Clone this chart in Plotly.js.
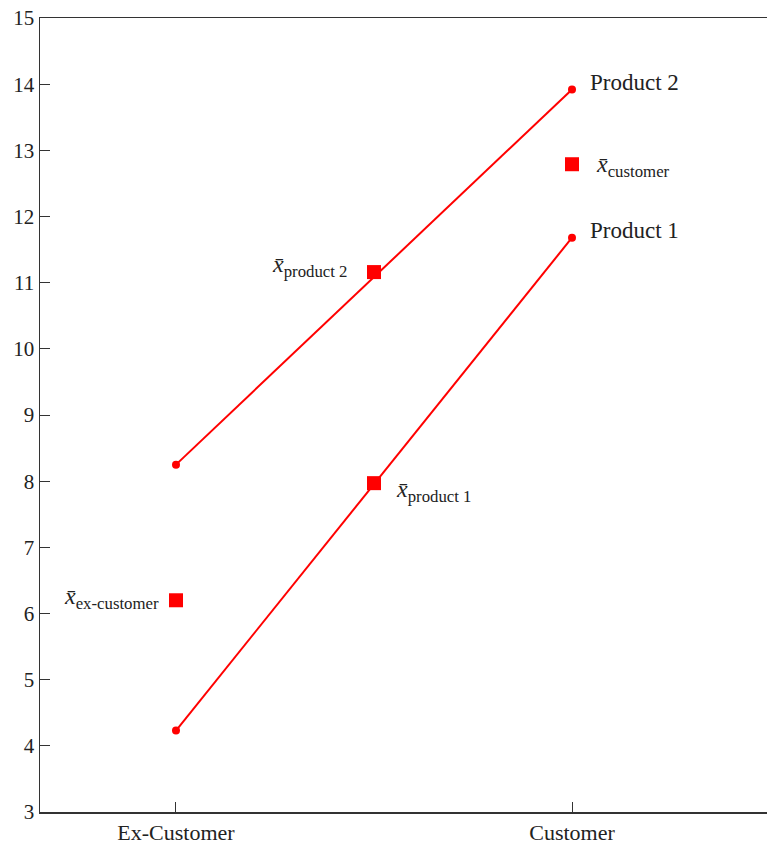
<!DOCTYPE html>
<html>
<head>
<meta charset="utf-8">
<script src="https://cdn.plot.ly/plotly-3.0.1.min.js"></script>
<style>html,body{margin:0;padding:0;background:#fff;}#chart{width:767px;height:844px;}</style>
</head>
<body>
<div id="chart"></div>
<script>
// Data
const categories = ["Ex-Customer", "Customer"];
const categoryPos = [0, 1];
const product1 = [4.23, 11.68];
const product2 = [8.25, 13.92];
const seriesNames = ["Product 1", "Product 2"];
const meanLabels = ["product 1", "product 2", "ex-customer", "customer"];
const meanX = [0.5, 0.5, 0, 1];
const meanY = [7.97, 11.16, 6.20, 12.79];
const yTicks = [3,4,5,6,7,8,9,10,11,12,13,14,15];

const red = "#ff0000";
const fontFam = "Liberation Serif, DejaVu Serif, serif";

const traces = [
  {x: categoryPos, y: product1, mode: "lines+markers", line: {color: red, width: 2}, marker: {color: red, size: 8}, hoverinfo: "none"},
  {x: categoryPos, y: product2, mode: "lines+markers", line: {color: red, width: 2}, marker: {color: red, size: 8}, hoverinfo: "none"},
  {x: meanX, y: meanY, mode: "markers", marker: {color: red, size: 14, symbol: "square"}, hoverinfo: "none"}
];

// label placement: [xanchor, xshift, yshift]
const meanPlace = [["left", 20, -8], ["right", -24, 6], ["right", -15, 2], ["left", 22, -2]];
const annotations = [];
meanLabels.forEach((lab, i) => {
  annotations.push({
    x: meanX[i], y: meanY[i], xref: "x", yref: "y",
    text: "<i>x̄</i><sub>" + lab + "</sub>",
    showarrow: false, xanchor: meanPlace[i][0], xshift: meanPlace[i][1], yshift: meanPlace[i][2],
    font: {family: fontFam, size: 24, color: "#222"}
  });
});
[product1, product2].forEach((s, i) => {
  annotations.push({
    x: categoryPos[1], y: s[1], xref: "x", yref: "y",
    text: seriesNames[i], showarrow: false, xanchor: "left", xshift: 16, yshift: 7,
    font: {family: fontFam, size: 23, color: "#222"}
  });
});

const layout = {
  width: 767, height: 844,
  margin: {l: 40, r: 0, t: 18, b: 32},
  paper_bgcolor: "#fff", plot_bgcolor: "#fff",
  showlegend: false,
  font: {family: fontFam, size: 21, color: "#222"},
  xaxis: {
    range: [-0.3434, 1.4924], tickvals: categoryPos, ticktext: categories,
    ticks: "inside", ticklen: 10, tickcolor: "#333", showgrid: false, zeroline: false,
    showline: true, linecolor: "#333", linewidth: 1.5, mirror: true,
    tickfont: {family: fontFam, size: 22, color: "#222"}
  },
  yaxis: {
    range: [3, 15], tickvals: yTicks,
    ticks: "inside", ticklen: 10, tickcolor: "#333", showgrid: false, zeroline: false,
    showline: true, linecolor: "#333", linewidth: 1.5,
    tickfont: {family: fontFam, size: 21, color: "#222"}
  },
  annotations: annotations
};

Plotly.newPlot("chart", traces, layout, {displayModeBar: false, staticPlot: true});
</script>
</body>
</html>
